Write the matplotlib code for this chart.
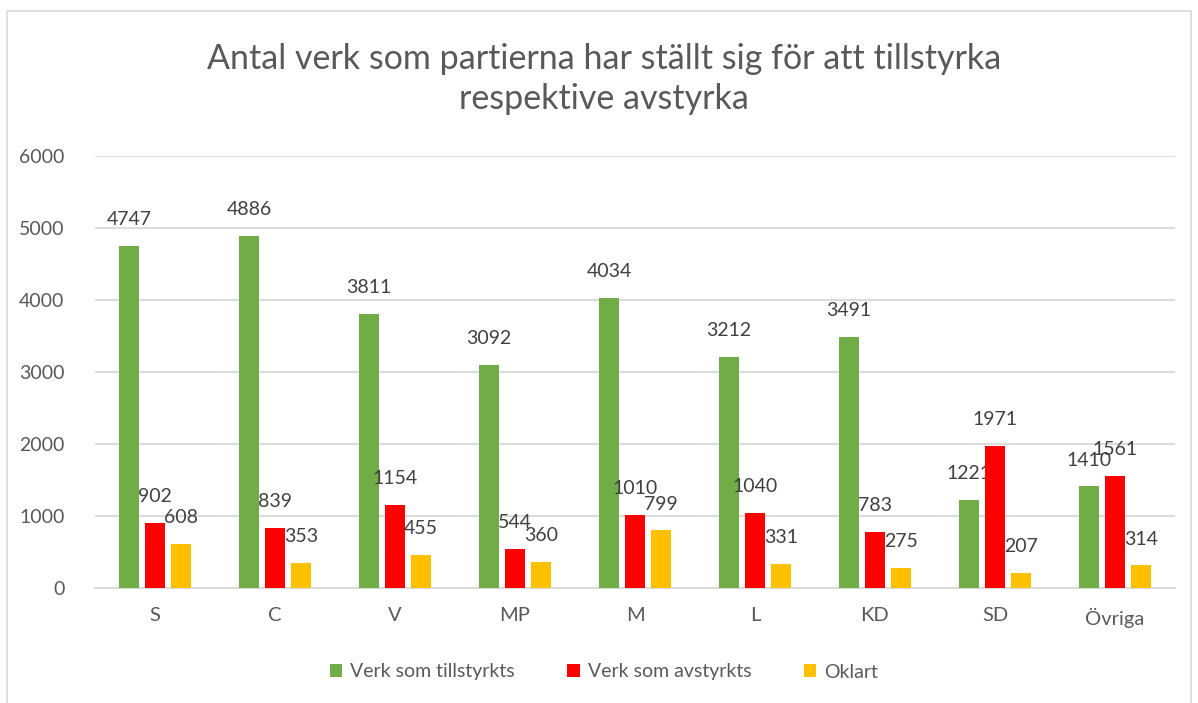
import numpy as np
import matplotlib.pyplot as plt
from matplotlib.patches import Rectangle

plt.rcParams['font.family'] = ['Lato', 'DejaVu Sans']

parties = ['S', 'C', 'V', 'MP', 'M', 'L', 'KD', 'SD', 'Övriga']
tillstyrkts = [4747, 4886, 3811, 3092, 4034, 3212, 3491, 1221, 1410]
avstyrkts = [902, 839, 1154, 544, 1010, 1040, 783, 1971, 1561]
oklart = [608, 353, 455, 360, 799, 331, 275, 207, 314]

series = [('Verk som tillstyrkts', tillstyrkts, '#70AD47'),
          ('Verk som avstyrkts', avstyrkts, '#FF0000'),
          ('Oklart', oklart, '#FFC000')]

grey = '#595959'
fig = plt.figure(figsize=(11.98, 7.03), dpi=100)
ax = fig.add_axes([95 / 1198, 115 / 703, 1080 / 1198, 432 / 703])

x = np.arange(len(parties))
w = 0.17
step = 0.217
for i, (name, vals, col) in enumerate(series):
    pos = x + (i - 1) * step
    ax.bar(pos, vals, w, color=col, label=name, zorder=3)
    for xp, v in zip(pos, vals):
        ax.annotate(str(v), (xp, v), xytext=(0, 19), textcoords='offset points',
                    ha='center', va='center', fontsize=14, color='#404040')

ax.set_xlim(-0.5, len(parties) - 0.5)
ax.set_ylim(0, 6000)
ax.set_yticks(range(0, 6001, 1000))
ax.set_xticks(x)
ax.set_xticklabels(parties)
ax.grid(axis='y', color='#D9D9D9', linewidth=1.3, zorder=0)
for s in ['top', 'right', 'left']:
    ax.spines[s].set_visible(False)
ax.spines['bottom'].set_color('#D9D9D9')
ax.spines['bottom'].set_linewidth(1.3)
ax.tick_params(axis='y', length=0, pad=22, labelsize=14, labelcolor=grey)
ax.tick_params(axis='x', length=0, pad=14, labelsize=14.5, labelcolor=grey)

fig.text(0.504, 1 - 79 / 703, 'Antal verk som partierna har ställt sig för att tillstyrka\nrespektive avstyrka',
         ha='center', va='center', fontsize=24.5, color=grey, linespacing=1.3)

fig.legend(loc='center', bbox_to_anchor=(0.504, 1 - 672 / 703), ncol=3, frameon=False,
           fontsize=14, labelcolor=grey, handlelength=0.65, handleheight=0.65,
           handletextpad=0.4, columnspacing=2.7)

fig.patches.append(Rectangle((7 / 1198, -0.05), 1184 / 1198, 1 - 11 / 703 + 0.05,
                             transform=fig.transFigure, fill=False,
                             edgecolor='#D9D9D9', linewidth=1.2))

fig.savefig('out.png', dpi=100)
